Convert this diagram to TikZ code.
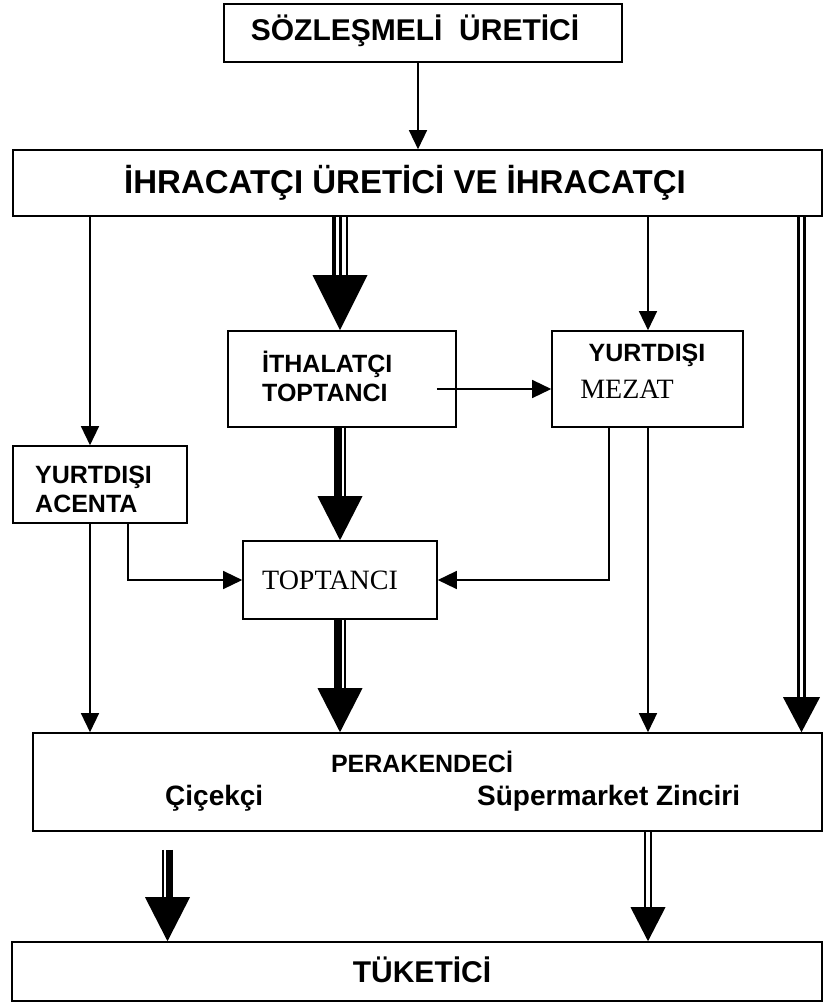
\documentclass[tikz,border=0pt]{standalone}
\usepackage{fontspec}
\setmainfont{Liberation Sans}
\newfontfamily\timesfont{Liberation Serif}
\usetikzlibrary{arrows.meta,calc}

\tikzset{
  box/.style={draw, line width=1.6pt, inner sep=0pt},
  lbl/.style={font=\bfseries\fontsize{25}{29}\selectfont, inner sep=0pt},
  midlbl/.style={font=\bfseries\fontsize{28}{32}\selectfont, inner sep=0pt},
  biglbl/.style={font=\bfseries\fontsize{30}{34}\selectfont, inner sep=0pt},
  tms/.style={font=\timesfont\fontsize{28}{32}\selectfont, inner sep=0pt},
  thin/.style={line width=1.4pt, -{Triangle[length=19pt,width=18pt]}},
  bigtip/.style 2 args={line width=0pt, -{Triangle[width=#1,length=#2]}},
  bar/.style={line width=#1}
}

\begin{document}
\begin{tikzpicture}[x=1pt, y=-1pt, line cap=butt, line join=miter]
\useasboundingbox (0,0) rectangle (832,1003);

% Kutular
\node[box, minimum width=398, minimum height=58] (uretici) at (423,33) {};
\node[box, minimum width=809, minimum height=66] (ihracatci) at (417.5,183) {};
\node[box, minimum width=228, minimum height=96] (ith) at (342,379) {};
\node[box, minimum width=191, minimum height=96] (mezat) at (647.5,379) {};
\node[box, minimum width=174, minimum height=77] (acenta) at (100,484.5) {};
\node[box, minimum width=194, minimum height=78] (toptanci) at (340,580) {};
\node[box, minimum width=789, minimum height=98] (perak) at (427.5,782) {};
\node[box, minimum width=810, minimum height=59] (tuketici) at (417,971.5) {};

% Yazilar
\node[biglbl] (t-uretici) at (415,31) {SÖZLEŞMELİ\ \ ÜRETİCİ};
\node[biglbl, font=\bfseries\fontsize{33}{36}\selectfont] (t-ihracatci) at (405,183) {İHRACATÇI ÜRETİCİ VE İHRACATÇI};
\node[lbl, align=left, anchor=west] (t-ith) at (262,376) {İTHALATÇI\\TOPTANCI};
\node[lbl] (t-yurtdisi) at (647,355) {YURTDIŞI};
\node[tms] (t-mezat) at (627,389) {MEZAT};
\node[lbl, align=left, anchor=west] (t-acenta) at (35,489) {YURTDIŞI\\ACENTA};
\node[tms] (t-toptanci) at (330,580) {TOPTANCI};
\node[lbl] (t-perak) at (422,762) {PERAKENDECİ};
\node[midlbl, anchor=west] (t-cicekci) at (165,798) {Çiçekçi};
\node[midlbl, anchor=west] (t-super) at (477,798) {Süpermarket Zinciri};
\node[biglbl] (t-tuketici) at (422,970) {TÜKETİCİ};

% Sutunlar
\coordinate (kA) at (90,0);
\coordinate (kB) at (128,0);
\coordinate (kC) at (340,0);
\coordinate (kD) at (609,0);
\coordinate (kE) at (648,0);
\coordinate (kF) at (801.5,0);
\coordinate (kG) at (167.5,0);
\coordinate (rM) at (0,389);

% Ince oklar
\draw[thin] ([xshift=-5pt]uretici.south) -- ([xshift=-5pt]uretici.south |- ihracatci.north);
\draw[thin] (ihracatci.south -| kA) -- (acenta.north -| kA);
\draw[thin] (acenta.south -| kA) -- (perak.north -| kA);
\draw[thin] (acenta.south -| kB) |- (toptanci.west);
\draw[thin] (ihracatci.south -| kE) -- (mezat.north -| kE);
\draw[thin] (mezat.south -| kE) -- (perak.north -| kE);
\draw[thin] (mezat.south -| kD) |- (toptanci.east);
\draw[thin] ($(ith.east |- rM)+(-20,0)$) -- (mezat.west |- rM);

% Kalin oklar
\foreach \dx/\w in {-6/4, 0.5/3, 7/2.5}
  \draw[bar=\w pt] ($(ihracatci.south -| kC)+(\dx,0)$) -- ($(ith.north -| kC)+(\dx,-54)$);
\draw[bigtip={55pt}{55pt}] ($(ith.north -| kC)+(0,-55)$) -- (ith.north -| kC);

\foreach \dx/\w in {-2/8, 5/2}
  \draw[bar=\w pt] ($(ith.south -| kC)+(\dx,0)$) -- ($(toptanci.north -| kC)+(\dx,-43)$);
\draw[bigtip={45pt}{44pt}] ($(toptanci.north -| kC)+(0,-44)$) -- (toptanci.north -| kC);

\foreach \dx/\w in {-2/8, 5/2}
  \draw[bar=\w pt] ($(toptanci.south -| kC)+(\dx,0)$) -- ($(perak.north -| kC)+(\dx,-43)$);
\draw[bigtip={45pt}{44pt}] ($(perak.north -| kC)+(0,-44)$) -- (perak.north -| kC);

\foreach \dx in {-3, 3}
  \draw[bar=2.5pt] ($(ihracatci.south -| kF)+(\dx,0)$) -- ($(perak.north -| kF)+(\dx,-34)$);
\draw[bigtip={37pt}{35pt}] ($(perak.north -| kF)+(0,-35)$) -- (perak.north -| kF);

% Tuketiciye
\foreach \dx/\w in {-4.5/2, 2/7}
  \draw[bar=\w pt] ($(perak.south -| kG)+(\dx,18)$) -- ($(tuketici.north -| kG)+(\dx,-43)$);
\draw[bigtip={45pt}{44pt}] ($(tuketici.north -| kG)+(0,-44)$) -- (tuketici.north -| kG);

\foreach \dx in {-3, 3}
  \draw[bar=2.5pt] ($(perak.south -| kE)+(\dx,0)$) -- ($(tuketici.north -| kE)+(\dx,-33)$);
\draw[bigtip={35pt}{34pt}] ($(tuketici.north -| kE)+(0,-34)$) -- (tuketici.north -| kE);

\end{tikzpicture}
\end{document}
